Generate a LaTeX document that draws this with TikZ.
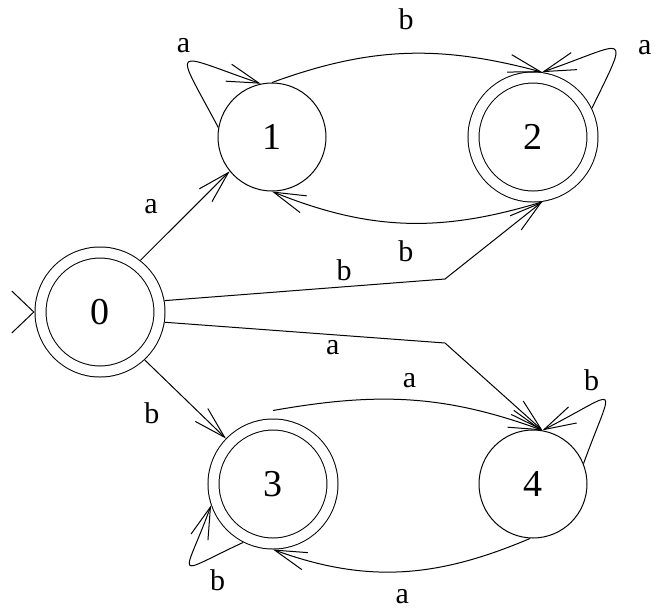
\documentclass[tikz,border=0pt]{standalone}
\usepackage{fontspec}
\setmainfont{Liberation Serif}
\usetikzlibrary{arrows.meta}
\tikzset{
  state/.style={circle, draw, minimum size=54pt, inner sep=0pt, font=\fontsize{19}{19}\selectfont},
  accept/.style={state, double, double distance=5pt, minimum size=59.5pt, outer sep=3pt},
  trans/.style={-{Straight Barb[length=16pt, width=9pt]}},
  entry/.style={-{Straight Barb[length=11pt, width=21pt]}},
  lbl/.style={font=\fontsize{15}{15}\selectfont, inner sep=1pt},
}

\begin{document}
\begin{tikzpicture}[x=0.5pt, y=0.5pt, line width=0.5pt]
  \useasboundingbox (0,0) rectangle (655,-607);
  % --- states ---
  \node[accept] (s0) at (100,-312) {0};
  \node[state]  (s1) at (272,-137) {1};
  \node[accept] (s2) at (533,-137) {2};
  \node[accept] (s3) at (273,-484) {3};
  \node[state]  (s4) at (533,-484) {4};
  \coordinate (k02) at (445,-279);
  \coordinate (k04) at (445,-343);
  \coordinate (in0) at ([xshift=-0.5pt]s0.west);
  % --- start arrow ---
  \draw[entry] (in0) -- (s0.west);
  % --- from 0 ---
  \draw[trans] (s0.52) -- node[lbl, pos=.36, above left=6.2pt] {a} (s1.219);
  \draw[trans] (s0.313) -- node[lbl, pos=.36, below left=6pt] {b} (s3.136);
  \draw[trans] (s0.10) -- node[lbl, pos=.64, above=1.9pt] {b} (k02) -- (s2.278);
  \draw[trans] (s0.351) -- node[lbl, pos=.6, below=1.8pt] {a} (k04) -- (s4.80);
  % --- between 1 and 2 ---
  \draw[trans] (s1.north) to[out=20, in=165] node[lbl, above=10.4pt] {b} (s2.82);
  \draw[trans] (s2.278) to[out=197, in=338] node[lbl, below=7.4pt] {b} (s1.south);
  % --- between 3 and 4 ---
  \draw[trans] ([yshift=4pt]s3.north) to[out=10, in=160] node[lbl, above=5pt] {a} (s4.80);
  \draw[trans] (s4.267) to[out=203, in=340] node[lbl, below=7.5pt] {a} (s3.south);
  % --- loops ---
  \draw[trans] (s1.170) .. controls +(118:48pt) and +(161:48pt) .. (s1.102)
    node[lbl, pos=.5, xshift=-2.5pt, yshift=8.5pt] {a};
  \draw[trans] (s2.26) .. controls +(64:45pt) and +(19:45pt) .. (s2.82)
    node[lbl, pos=.5, xshift=15.5pt, yshift=0.5pt] {a};
  \draw[trans] (s4.22) .. controls +(70:45pt) and +(27:45pt) .. (s4.80)
    node[lbl, pos=.5, xshift=-6.5pt, yshift=10pt] {b};
  \draw[trans] (s3.243) .. controls +(205:40pt) and +(250:40pt) .. (s3.199)
    node[lbl, pos=.5, xshift=14pt, yshift=-8pt] {b};
\end{tikzpicture}
\end{document}
